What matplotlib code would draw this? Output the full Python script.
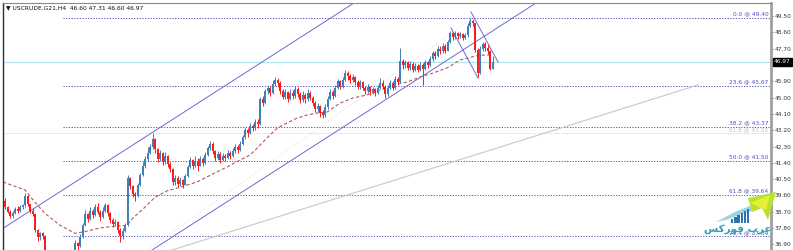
import numpy as np
import matplotlib
matplotlib.use("Agg")
import matplotlib.pyplot as plt
from matplotlib.patches import Polygon, Rectangle

# ---- data (USCRUDE.G21, H4) ----
first_open = 39.30
closes = [
    38.95, 38.70, 38.45, 38.65, 38.85, 38.75, 38.95, 39.05, 39.55, 39.10,
    38.75, 38.55, 37.70, 37.30, 37.50, 37.35, 36.40, 36.00, 35.80, 35.95,
    35.70, 35.85, 35.60, 35.75, 36.05, 35.95, 36.20, 36.45, 36.95, 36.80,
    37.30, 37.95, 38.55, 38.30, 38.75, 38.50, 38.95, 38.70, 38.40, 38.75,
    39.05, 38.60, 38.25, 38.00, 38.15, 37.70, 37.35, 37.65, 37.95, 40.55,
    40.10, 39.65, 39.55, 40.15, 40.70, 41.25, 41.60, 41.95, 42.25, 42.70,
    42.15, 41.60, 41.95, 41.45, 41.80, 41.35, 41.05, 40.35, 40.55, 40.25,
    40.45, 40.20, 40.65, 41.15, 41.55, 41.20, 41.50, 41.25, 41.60, 41.40,
    41.85, 42.20, 42.45, 42.05, 41.65, 41.90, 41.55, 41.80, 41.65, 41.95,
    41.75, 42.05, 42.30, 42.10, 42.45, 42.80, 43.20, 43.05, 43.45, 43.30,
    43.65, 43.55, 44.90, 44.70, 45.35, 45.55, 45.25, 45.75, 46.00, 45.80,
    45.35, 45.05, 45.30, 44.95, 45.25, 45.10, 45.50, 45.20, 44.85, 45.15,
    44.90, 45.25, 45.00, 44.70, 44.35, 44.55, 44.15, 44.05, 44.50, 44.95,
    45.30, 45.10, 45.55, 45.90, 45.60, 46.00, 46.35, 46.20, 45.95, 46.15,
    45.85, 45.60, 45.85, 45.55, 45.35, 45.60, 45.30, 45.45, 45.25, 45.55,
    45.80, 45.60, 45.20, 45.55, 45.80, 45.55, 46.05, 45.85, 47.05, 46.80,
    46.95, 46.65, 46.85, 46.55, 46.75, 46.50, 46.80, 46.60, 46.95, 46.80,
    47.15, 47.45, 47.30, 47.70, 47.55, 47.85, 47.60, 48.05, 48.55, 48.35,
    48.55, 48.40, 48.50, 48.30, 48.45, 48.95, 49.25, 49.10, 47.65, 46.35,
    47.70, 47.95, 47.75, 47.55, 46.60, 46.97]
highs = [
    39.45, 39.00, 38.80, 38.75, 38.95, 39.00, 39.05, 39.15, 39.75, 39.60,
    39.15, 38.90, 38.60, 37.75, 37.60, 37.60, 37.40, 36.45, 36.10, 36.10,
    36.00, 35.95, 35.90, 35.85, 36.15, 36.20, 36.35, 36.60, 37.15, 37.05,
    37.45, 38.10, 38.80, 38.65, 38.95, 38.85, 39.15, 39.20, 38.80, 38.95,
    39.20, 39.15, 38.70, 38.35, 38.30, 38.20, 37.80, 37.80, 38.10, 40.75,
    40.60, 40.20, 39.80, 40.30, 40.85, 41.45, 41.75, 42.30, 42.45, 43.05,
    42.75, 42.20, 42.10, 42.00, 42.00, 41.85, 41.45, 41.10, 40.70, 40.65,
    40.60, 40.50, 40.80, 41.30, 41.70, 41.60, 41.75, 41.65, 41.80, 41.70,
    42.00, 42.35, 42.60, 42.55, 42.10, 42.05, 42.00, 41.95, 41.90, 42.10,
    42.05, 42.20, 42.45, 42.40, 42.60, 42.95, 43.35, 43.30, 43.60, 43.55,
    43.80, 43.80, 45.05, 45.10, 45.50, 45.70, 45.65, 45.95, 46.15, 46.10,
    45.90, 45.45, 45.45, 45.35, 45.45, 45.40, 45.65, 45.60, 45.30, 45.35,
    45.25, 45.45, 45.35, 45.10, 44.80, 44.70, 44.60, 44.30, 44.65, 45.10,
    45.45, 45.40, 45.70, 46.05, 45.95, 46.15, 46.50, 46.45, 46.30, 46.30,
    46.20, 45.95, 46.00, 45.90, 45.65, 45.75, 45.65, 45.60, 45.55, 45.70,
    46.10, 45.95, 45.70, 45.70, 45.95, 45.90, 46.20, 46.15, 47.75, 47.15,
    47.10, 47.00, 47.05, 46.95, 46.90, 46.85, 46.95, 46.90, 47.10, 47.05,
    47.30, 47.60, 47.55, 47.85, 47.85, 48.00, 47.95, 48.20, 48.70, 48.65,
    48.70, 48.65, 48.60, 48.55, 48.55, 49.10, 49.40, 49.35, 49.15, 47.75,
    47.85, 48.10, 48.05, 47.90, 47.65, 47.31]
lows = [
    38.85, 38.60, 38.35, 38.35, 38.55, 38.65, 38.70, 38.85, 38.95, 39.00,
    38.60, 38.45, 37.55, 37.10, 37.15, 37.20, 36.20, 35.85, 35.60, 35.70,
    35.55, 35.60, 35.40, 35.50, 35.70, 35.80, 35.90, 36.10, 36.40, 36.60,
    36.75, 37.25, 37.90, 38.15, 38.25, 38.35, 38.45, 38.55, 38.20, 38.35,
    38.70, 38.45, 38.10, 37.85, 37.90, 37.50, 37.00, 37.20, 37.55, 37.90,
    39.95, 39.50, 39.30, 39.50, 40.10, 40.65, 41.10, 41.50, 41.90, 42.15,
    41.95, 41.45, 41.50, 41.30, 41.35, 41.15, 40.90, 40.20, 40.15, 40.05,
    40.10, 40.00, 40.15, 40.60, 41.10, 41.05, 41.15, 40.95, 41.20, 41.25,
    41.35, 41.80, 42.10, 41.90, 41.50, 41.55, 41.40, 41.50, 41.50, 41.60,
    41.60, 41.70, 41.95, 41.95, 42.05, 42.40, 42.70, 42.85, 43.00, 43.15,
    43.20, 43.35, 43.50, 44.55, 44.65, 45.20, 45.10, 45.20, 45.65, 45.60,
    45.20, 44.90, 44.95, 44.75, 44.85, 44.95, 45.00, 45.05, 44.70, 44.75,
    44.70, 44.80, 44.85, 44.55, 44.20, 44.20, 43.95, 43.85, 43.95, 44.40,
    44.85, 44.95, 45.05, 45.45, 45.45, 45.55, 45.90, 46.00, 45.80, 45.85,
    45.70, 45.45, 45.50, 45.40, 45.20, 45.25, 45.15, 45.20, 45.10, 45.20,
    45.45, 45.45, 45.00, 45.10, 45.45, 45.40, 45.50, 45.70, 45.80, 46.60,
    46.65, 46.50, 46.55, 46.40, 46.45, 46.40, 46.45, 45.70, 46.50, 46.65,
    46.75, 47.05, 47.15, 47.25, 47.40, 47.45, 47.45, 47.55, 48.00, 48.20,
    48.25, 48.25, 48.30, 48.20, 48.25, 48.35, 48.90, 48.95, 47.50, 46.15,
    46.30, 47.55, 47.60, 47.40, 46.55, 46.60]

# moving average (brown dashed), read at a few bars
ma_bar = [-0.8, 8, 11.2, 16, 22, 28, 32, 38, 44, 48.8, 51.2, 56, 60, 64.8,
          68.8, 72.8, 76.8, 80.8, 84.8, 88.8, 94, 98, 100.8, 103.2, 106,
          108.8, 112.8, 116.8, 120.8, 124.8, 128.8, 134, 139.2, 144.8, 150,
          155.2, 160.8, 166, 171.2, 176.8, 182, 186.8, 190, 195]
ma_val = [40.34, 39.90, 39.35, 38.60, 37.95, 37.50, 37.60, 37.80, 37.90,
          37.95, 38.35, 38.95, 39.50, 39.85, 40.00, 40.17, 40.34, 40.62,
          40.90, 41.17, 41.55, 41.83, 42.20, 42.55, 42.94, 43.30, 43.60,
          43.87, 44.04, 44.15, 44.20, 44.70, 44.98, 45.15, 45.42, 45.70,
          45.86, 46.14, 46.36, 46.64, 47.08, 47.25, 47.35, 47.35]

# fibonacci retracement
fib_pct = ["0.0", "23.6", "38.2", "50.0", "61.8", "76.4"]
fib_price = [49.40, 45.67, 43.37, 41.50, 39.64, 37.34]
fib_start = 23.2
fib2_label = "61.8 @ 43.02"
fib2_price = 43.02

# trend lines: (bar, price) pairs
chan_up = [(0, 37.85), (139.6, 50.23)]
chan_low = [(58.8, 36.58), (212.4, 50.23)]
mid_line = [(56.8, 36.58), (186.0, 49.29)]
gray_line = [(40.0, 35.42), (277.2, 45.70)]
down_a = [(186.4, 49.73), (197.2, 46.97)]
down_b = [(178.4, 48.85), (189.2, 46.09)]

last_price = 46.97
yticks = [36.90, 37.80, 38.70, 39.60, 40.50, 41.40, 42.30, 43.20, 44.10,
          45.00, 45.90, 46.80, 47.70, 48.60, 49.50]

# ---- drawing ----
W, H = 793, 250
fig = plt.figure(figsize=(W / 100, H / 100), dpi=100)
ax = fig.add_axes([3 / W, 0, 768 / W, 247 / H])
ax.set_xlim(-0.8, 306.4)
ax.set_ylim(36.582, 50.229)

closes = np.array(closes)
highs = np.array(highs)
lows = np.array(lows)
opens = np.concatenate([[first_open], closes[:-1]])
x = np.arange(len(closes))
up = closes >= opens
bull, bear = "#3f7fba", "#ff1a1a"
cols = np.where(up, bull, bear)

ax.vlines(x, lows, highs, colors=cols, lw=0.7, zorder=3)
body_lo = np.minimum(opens, closes)
body_h = np.maximum(np.abs(closes - opens), 0.04)
ax.bar(x, body_h, bottom=body_lo, width=0.78, color=cols, lw=0, zorder=4)

ax.plot(ma_bar, ma_val, color="#b35a5a", lw=0.8, ls=(0, (3, 2)), zorder=2)

fib_col = "#4f4fc6"
for pct, p in zip(fib_pct, fib_price):
    ax.plot([fib_start, 306.4], [p, p], color=fib_col, lw=0.7,
            ls=(0, (1.2, 1.6)), zorder=1)
    ax.text(305.4, p + 0.08, f"{pct} @ {p:.2f}", color=fib_col,
            fontsize=4.2, ha="right", va="bottom", zorder=5)
ax.axhline(fib2_price, color="#cfcfcf", lw=0.7, ls=(0, (1.2, 1.6)), zorder=1)
ax.text(305.4, fib2_price + 0.06, fib2_label, color="#c4c4c4",
        fontsize=4.2, ha="right", va="bottom", zorder=5)

ax.axhline(last_price, color="#b4e6ef", lw=0.9, zorder=1)

chan_col = "#6a6ad2"
for pts in (chan_up, chan_low):
    ax.axline(pts[0], pts[1], color=chan_col, lw=0.7, zorder=2)
for pts in (down_a, down_b):
    ax.plot(*zip(*pts), color=chan_col, lw=0.7, zorder=2)
ax.plot(*zip(*gray_line), color="#c8c8c8", lw=0.8, zorder=1)
ax.plot(*zip(*mid_line), color="#e6cfcf", lw=0.6, ls=(0, (1, 2)), zorder=1)

# axes frame like the terminal
ax.spines["bottom"].set_visible(False)
ax.spines["left"].set_color("#303030")
ax.spines["left"].set_linewidth(1.0)
ax.spines["top"].set_color("#8a8a8a")
ax.spines["top"].set_linewidth(0.8)
ax.spines["right"].set_color("#a0a0a0")
ax.spines["right"].set_linewidth(2.0)
ax.set_xticks([])
ax.yaxis.tick_right()
ax.set_yticks(yticks)
ax.set_yticklabels([f"{t:.2f}" for t in yticks])
ax.tick_params(axis="y", labelsize=4.2, length=1.5, width=0.6, pad=1.2,
               colors="#333333")

ax.annotate(f"{last_price:.2f}", xy=(1, last_price),
            xycoords=("axes fraction", "data"), xytext=(2.2, 0),
            textcoords="offset points", ha="left", va="center",
            fontsize=4.2, color="white", zorder=10, annotation_clip=False,
            bbox=dict(boxstyle="square,pad=0.25", fc="black", ec="black"))

fig.text(6 / W, 1 - 8 / H, "\u25BC USCRUDE.G21,H4  46.60 47.31 46.60 46.97",
         fontsize=4.3, va="center", ha="left", color="#111111")

# watermark logo (pixel overlay)
ov = fig.add_axes([0, 0, 1, 1], zorder=20)
ov.set_xlim(0, W)
ov.set_ylim(H, 0)
ov.axis("off")
ov.add_patch(Polygon([(716, 222), (735, 212), (752, 205), (758, 209),
                      (742, 214), (726, 220)], closed=True,
                     fc="#8fd0e0", ec="none", alpha=0.9))
for k, hgt in enumerate([4, 6, 8, 10, 12, 14]):
    ov.add_patch(Rectangle((731 + k * 3.2, 223 - hgt), 2.4, hgt,
                           fc="#2f73b0", ec="none"))
ov.add_patch(Polygon([(748, 198), (776, 192), (768, 220), (762, 208),
                      (752, 212)], closed=True, fc="#b8e22e", ec="none"))
ov.add_patch(Polygon([(750, 203), (770, 195), (766, 210)], closed=True,
                     fc="#e4f03a", ec="none"))
ov.text(738, 229, "\uFEB2\uFEDB\uFEAD\uFEEE\uFED3 \uFE8F\uFEAE\uFECB",
        fontsize=7.5, color="#2b9fb5", ha="center", va="center",
        family="DejaVu Sans", fontweight="bold")

fig.savefig("out.png", dpi=100, facecolor="white")
